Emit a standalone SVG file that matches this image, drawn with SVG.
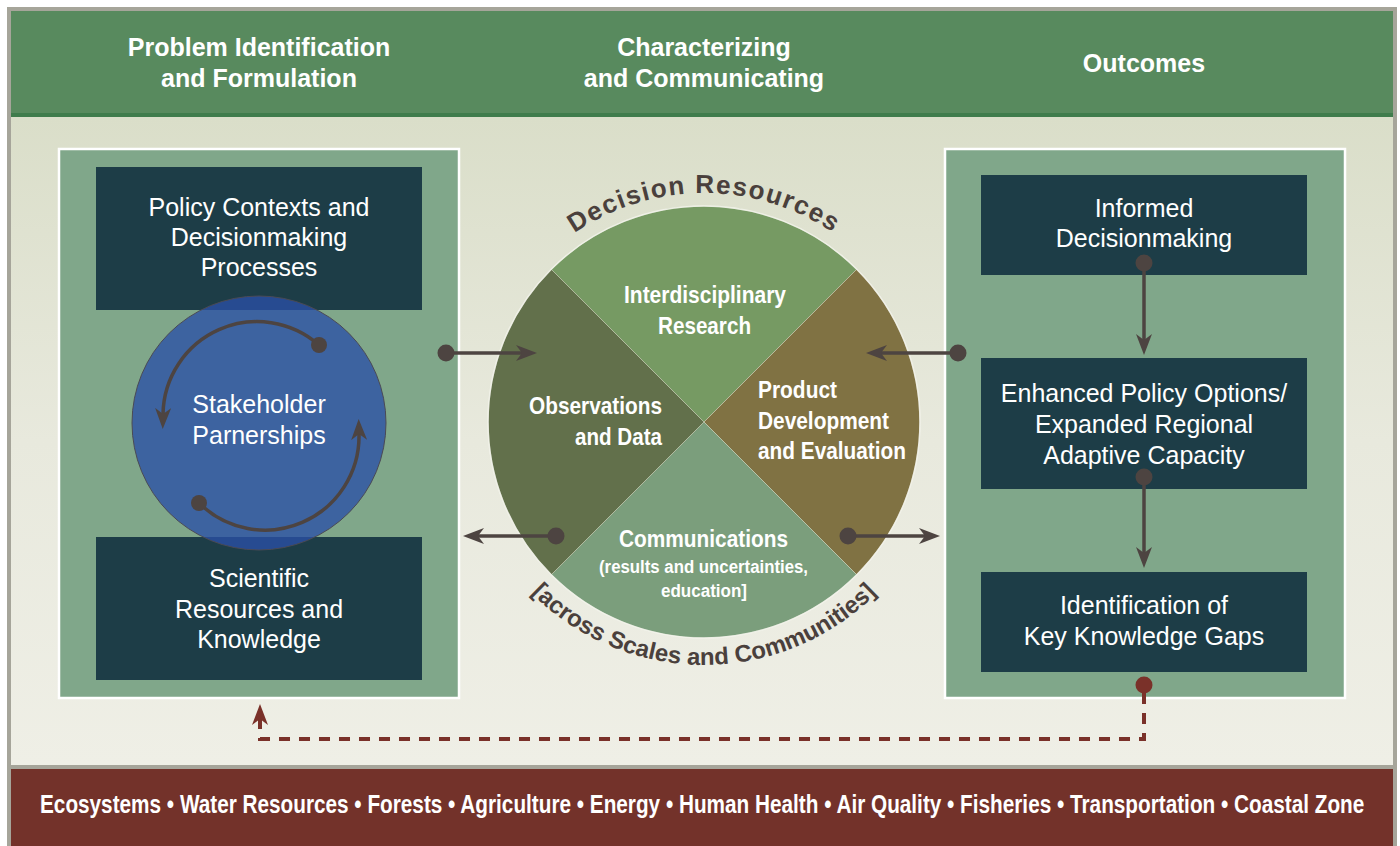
<svg xmlns="http://www.w3.org/2000/svg" width="1400" height="846" viewBox="0 0 1400 846">
  <defs>
    <linearGradient id="bodyGrad" x1="0" y1="0" x2="0" y2="1">
      <stop offset="0" stop-color="#dadec9"/>
      <stop offset="0.5" stop-color="#e8e9dd"/>
      <stop offset="1" stop-color="#efefe6"/>
    </linearGradient>
    <marker id="ah" viewBox="-6 -8 21 16" refX="0" refY="0" markerWidth="21" markerHeight="16" markerUnits="userSpaceOnUse" orient="auto">
      <path d="M15,0 L-6,-8 L0,0 L-6,8 Z" fill="#4d4441"/>
    </marker>
    <marker id="ahRed" viewBox="-6 -8 21 16" refX="0" refY="0" markerWidth="21" markerHeight="16" markerUnits="userSpaceOnUse" orient="auto">
      <path d="M15,0 L-6,-8 L0,0 L-6,8 Z" fill="#7a3129"/>
    </marker>
    <path id="arcTop" d="M475,422 A229,229 0 0 1 933,422"/>
    <path id="arcBot" d="M461,422 A243,243 0 0 0 947,422"/>
    <style>
      .hdr { font-family: "Liberation Sans", Arial, sans-serif; font-weight: bold; font-size: 25px; fill: #ffffff; text-anchor: middle; }
      .box { fill: #1d3d47; }
      .panel { fill: #80a78a; stroke: #ffffff; stroke-width: 2.5; }
      .btxt { font-family: "Liberation Sans", Arial, sans-serif; font-size: 25px; fill: #ffffff; text-anchor: middle; }
      .qtxt { font-family: "Liberation Sans", Arial, sans-serif; font-weight: bold; font-size: 24px; fill: #ffffff; }
      .qsub { font-family: "Liberation Sans", Arial, sans-serif; font-weight: bold; font-size: 18px; fill: #ffffff; }
      .arc { font-family: "Liberation Sans", Arial, sans-serif; font-weight: bold; fill: #4a403c; }
      .link { stroke: #4d4441; stroke-width: 3.5; fill: none; marker-end: url(#ah); }
      .dot { fill: #4d4441; }
      .sector { stroke: #d6dcc8; stroke-opacity: 0.45; stroke-width: 1; }
    </style>
  </defs>

  <!-- frame, header band, body, sector bar -->
  <rect x="0" y="0" width="1400" height="846" fill="#ffffff"/>
  <rect x="7" y="7" width="1390" height="845" fill="#a6a59a"/>
  <rect x="11" y="11" width="1382" height="103" fill="#588a5e"/>
  <rect x="11" y="113" width="1382" height="4" fill="#3f7c4c"/>
  <rect x="11" y="117" width="1382" height="648" fill="url(#bodyGrad)"/>
  <rect x="11" y="769" width="1382" height="77" fill="#73322a"/>

  <g id="headers">
    <text class="hdr" x="259" y="56">Problem Identification</text>
    <text class="hdr" x="259" y="87">and Formulation</text>
    <text class="hdr" x="704" y="56">Characterizing</text>
    <text class="hdr" x="704" y="87">and Communicating</text>
    <text class="hdr" x="1144" y="72">Outcomes</text>
  </g>

  <!-- left column -->
  <g id="left-panel">
    <rect class="panel" x="59" y="149" width="400" height="549"/>
  </g>
  <g id="policy-contexts">
    <rect class="box" x="96" y="167" width="326" height="143"/>
    <text class="btxt" x="259" y="216">Policy Contexts and</text>
    <text class="btxt" x="259" y="246">Decisionmaking</text>
    <text class="btxt" x="259" y="276">Processes</text>
  </g>
  <g id="scientific-resources">
    <rect class="box" x="96" y="537" width="326" height="143"/>
    <text class="btxt" x="259" y="587">Scientific</text>
    <text class="btxt" x="259" y="618">Resources and</text>
    <text class="btxt" x="259" y="648">Knowledge</text>
  </g>
  <g id="stakeholder-partnerships">
    <circle cx="259" cy="423" r="127" fill="#2a50a7" fill-opacity="0.78" stroke="#4a4a55" stroke-width="1"/>
    <path class="link" d="M319,345 A94,94 0 0 0 163,414"/>
    <circle class="dot" cx="319" cy="345" r="8"/>
    <path class="link" d="M199,503 A94,94 0 0 0 359,434"/>
    <circle class="dot" cx="199" cy="503" r="8"/>
    <text class="btxt" x="259" y="413">Stakeholder</text>
    <text class="btxt" x="259" y="444">Parnerships</text>
  </g>

  <!-- central wheel -->
  <g id="decision-resources">
    <path class="sector" fill="#769a63" d="M704,422 L551.3,269.3 A216,216 0 0 1 856.7,269.3 Z"/>
    <path class="sector" fill="#807243" d="M704,422 L856.7,269.3 A216,216 0 0 1 856.7,574.7 Z"/>
    <path class="sector" fill="#7b9e7c" d="M704,422 L856.7,574.7 A216,216 0 0 1 551.3,574.7 Z"/>
    <path class="sector" fill="#62704b" d="M704,422 L551.3,574.7 A216,216 0 0 1 551.3,269.3 Z"/>
    <circle cx="704" cy="422" r="216" fill="none" stroke="#f6f6ef" stroke-opacity="0.85" stroke-width="1.5"/>
    <text class="arc" font-size="26" letter-spacing="1.5"><textPath href="#arcTop" startOffset="50%" text-anchor="middle">Decision Resources</textPath></text>
    <text class="arc" font-size="24"><textPath href="#arcBot" startOffset="50%" text-anchor="middle">[across Scales and Communities]</textPath></text>
  </g>
  <g id="interdisciplinary-research">
    <text class="qtxt" x="624" y="303" textLength="162" lengthAdjust="spacingAndGlyphs">Interdisciplinary</text>
    <text class="qtxt" x="658" y="334" textLength="93" lengthAdjust="spacingAndGlyphs">Research</text>
  </g>
  <g id="observations-data">
    <text class="qtxt" x="529" y="414" textLength="133" lengthAdjust="spacingAndGlyphs">Observations</text>
    <text class="qtxt" x="575" y="445" textLength="87" lengthAdjust="spacingAndGlyphs">and Data</text>
  </g>
  <g id="product-development">
    <text class="qtxt" x="758" y="398" textLength="79" lengthAdjust="spacingAndGlyphs">Product</text>
    <text class="qtxt" x="758" y="429" textLength="131" lengthAdjust="spacingAndGlyphs">Development</text>
    <text class="qtxt" x="758" y="459" textLength="148" lengthAdjust="spacingAndGlyphs">and Evaluation</text>
  </g>
  <g id="communications">
    <text class="qtxt" x="619" y="547" textLength="169" lengthAdjust="spacingAndGlyphs">Communications</text>
    <text class="qsub" x="599" y="573" textLength="209" lengthAdjust="spacingAndGlyphs">(results and uncertainties,</text>
    <text class="qsub" x="661" y="597" textLength="86" lengthAdjust="spacingAndGlyphs">education]</text>
  </g>

  <!-- right column -->
  <g id="right-panel">
    <rect class="panel" x="945" y="149" width="400" height="549"/>
  </g>
  <g id="informed-decisionmaking">
    <rect class="box" x="981" y="175" width="326" height="100"/>
    <text class="btxt" x="1144" y="217">Informed</text>
    <text class="btxt" x="1144" y="247">Decisionmaking</text>
  </g>
  <g id="enhanced-policy-options">
    <rect class="box" x="981" y="358" width="326" height="131"/>
    <text class="btxt" x="1144" y="402">Enhanced Policy Options/</text>
    <text class="btxt" x="1144" y="433">Expanded Regional</text>
    <text class="btxt" x="1144" y="464">Adaptive Capacity</text>
  </g>
  <g id="knowledge-gaps">
    <rect class="box" x="981" y="572" width="326" height="100"/>
    <text class="btxt" x="1144" y="614">Identification of</text>
    <text class="btxt" x="1144" y="645">Key Knowledge Gaps</text>
  </g>

  <!-- connectors -->
  <g id="connectors">
    <path class="link" d="M446,353 H522"/>
    <circle class="dot" cx="446" cy="353" r="8.5"/>
    <path class="link" d="M556,536 H478"/>
    <circle class="dot" cx="556" cy="536" r="8.5"/>
    <path class="link" d="M958,353 H881"/>
    <circle class="dot" cx="958" cy="353" r="8.5"/>
    <path class="link" d="M848,536 H925"/>
    <circle class="dot" cx="848" cy="536" r="8.5"/>
    <path class="link" d="M1144,263 V340"/>
    <circle class="dot" cx="1144" cy="263" r="8.5"/>
    <path class="link" d="M1144,477 V553"/>
    <circle class="dot" cx="1144" cy="477" r="8.5"/>
    <path d="M1144,693 V739 H260 V719" fill="none" stroke="#7a3129" stroke-width="4" stroke-dasharray="11 9" marker-end="url(#ahRed)"/>
    <circle cx="1144" cy="685" r="8.5" fill="#7a3129"/>
  </g>

  <!-- sector list, drawn horizontally condensed -->
  <g id="sectors-bar" transform="translate(40,813) scale(0.83,1)">
    <text x="0" y="0" font-family="'Liberation Sans', Arial, sans-serif" font-weight="bold" font-size="25" fill="#ffffff">Ecosystems • Water Resources • Forests • Agriculture • Energy • Human Health • Air Quality • Fisheries • Transportation • Coastal Zone</text>
  </g>
</svg>
